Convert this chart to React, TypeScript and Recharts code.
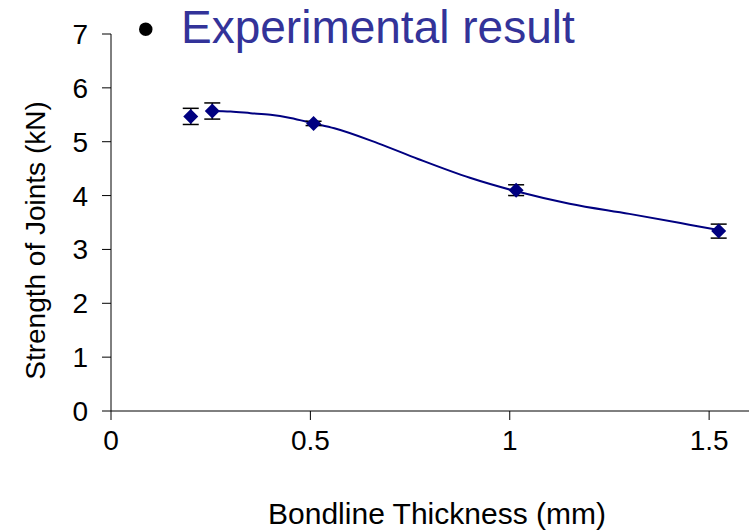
import React from 'react';
import { ComposedChart, Line, Scatter, ErrorBar, XAxis, YAxis } from 'recharts';

// measured joints (bondline thickness in mm, strength in kN)
const thickness = [0.2, 0.254, 0.508, 1.016, 1.524];
const strength = [5.47, 5.57, 5.34, 4.1, 3.34];
const strengthErr = [0.15, 0.15, 0.04, 0.1, 0.13];

// smooth trend line
const trendX = [0.254, 0.3, 0.35, 0.4, 0.45, 0.508, 0.56, 0.67, 0.77, 0.9, 1.016, 1.15, 1.3, 1.45, 1.524];
const trendY = [5.57, 5.56, 5.53, 5.5, 5.44, 5.34, 5.25, 4.97, 4.68, 4.33, 4.08, 3.85, 3.66, 3.46, 3.36];

const xTicks = [0, 0.5, 1, 1.5];
const yTicks = [0, 1, 2, 3, 4, 5, 6, 7];

const pointData = thickness.map((x, i) => ({ x, y: strength[i], err: strengthErr[i] }));
const trendData = trendX.map((x, i) => ({ x, y: trendY[i] }));

const FONT = '"Liberation Sans", Arial, sans-serif';
const NAVY = '#000080';

const Diamond = (props: any) => {
  const { cx, cy } = props;
  const r = 7.5;
  return (
    <polygon
      points={`${cx},${cy - r} ${cx + r},${cy} ${cx},${cy + r} ${cx - r},${cy}`}
      fill={NAVY}
    />
  );
};

const App: React.FC = () => {
  return (
    <div style={{ position: 'absolute', left: 0, top: 0, width: 750, height: 531, background: '#fff' }}>
      <ComposedChart
        width={750}
        height={531}
        margin={{ top: 34, right: 1, bottom: 0, left: 0 }}
        style={{ fontFamily: FONT }}
      >
        <XAxis
          type="number"
          dataKey="x"
          domain={[0, 1.6]}
          ticks={xTicks}
          allowDataOverflow
          height={120}
          tickSize={9}
          tickMargin={10}
          stroke="#000"
          tick={{ fill: '#000', fontSize: 28, fontFamily: FONT }}
          label={{
            content: (p: any) => {
              const vb = p.viewBox;
              return (
                <text x={vb.x + vb.width / 2 + 7} y={524} textAnchor="middle" fontSize={30} fontFamily={FONT} fill="#000">
                  Bondline Thickness (mm)
                </text>
              );
            },
          }}
        />
        <YAxis
          type="number"
          domain={[0, 7]}
          ticks={yTicks}
          width={111}
          tickSize={9}
          tickMargin={14}
          stroke="#000"
          tick={{ fill: '#000', fontSize: 28, fontFamily: FONT }}
          label={{
            content: (p: any) => {
              const vb = p.viewBox;
              const cy = vb.y + vb.height / 2 + 18;
              return (
                <text
                  x={45}
                  y={cy}
                  transform={`rotate(-90, 45, ${cy})`}
                  textAnchor="middle"
                  fontSize={28}
                  fontFamily={FONT}
                  fill="#000"
                >
                  Strength of Joints (kN)
                </text>
              );
            },
          }}
        />
        <Line
          data={trendData}
          dataKey="y"
          type="monotone"
          stroke={NAVY}
          strokeWidth={2}
          dot={false}
          activeDot={false}
          isAnimationActive={false}
        />
        <Scatter data={pointData} dataKey="y" shape={Diamond} isAnimationActive={false}>
          <ErrorBar dataKey="err" direction="y" width={8} stroke="#000" strokeWidth={1.5} isAnimationActive={false} />
        </Scatter>
      </ComposedChart>
      <svg width={750} height={60} style={{ position: 'absolute', left: 0, top: 0, pointerEvents: 'none' }}>
        <text x={137} y={46} fontSize={50} fontFamily={FONT} fill="#000">•</text>
        <text x={181} y={43} fontSize={46} fontFamily={FONT} fill="#333399">Experimental result</text>
      </svg>
    </div>
  );
};

export default App;
